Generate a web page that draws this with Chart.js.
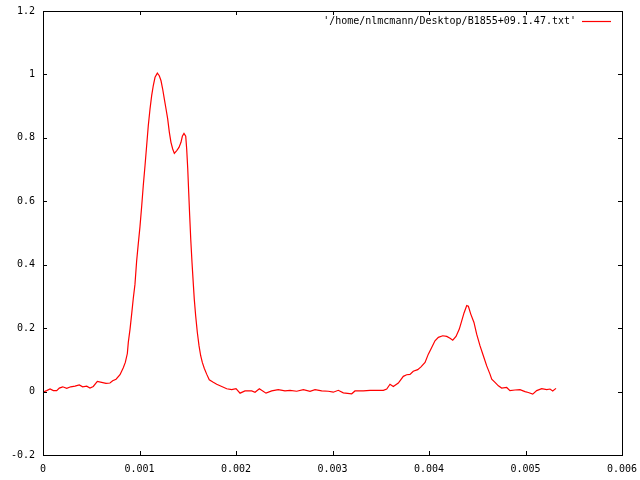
<!DOCTYPE html>
<html>
<head>
<meta charset="utf-8">
<script src="https://cdn.jsdelivr.net/npm/chart.js@4.4.1/dist/chart.umd.min.js"></script>
<style>
  html, body { margin: 0; padding: 0; background: #fff; }
</style>
</head>
<body>
<canvas id="profile" width="640" height="480"></canvas>
<script>
// pulse profile (x in seconds, y normalised)
var seriesLabel = "'/home/nlmcmann/Desktop/B1855+09.1.47.txt'";
var lineColor = '#ff0000';

var xs = [
  0.000000, 0.000038, 0.000073, 0.000107, 0.000142, 0.000169, 0.000204, 0.000246, 0.000287, 0.000332,
  0.000376, 0.000411, 0.000453, 0.000487, 0.000521, 0.000563, 0.000608, 0.000653, 0.000694, 0.000722,
  0.000757, 0.000798, 0.000832, 0.000853, 0.000874, 0.000884, 0.000902, 0.000919, 0.000936, 0.000953,
  0.000970, 0.000988, 0.001005, 0.001023, 0.001039, 0.001057, 0.001074, 0.001091, 0.001109, 0.001126,
  0.001143, 0.001161, 0.001185, 0.001205, 0.001223, 0.001240, 0.001257, 0.001275, 0.001292, 0.001309,
  0.001326, 0.001344, 0.001361, 0.001386, 0.001409, 0.001430, 0.001444, 0.001461, 0.001479, 0.001489,
  0.001500, 0.001510, 0.001520, 0.001531, 0.001544, 0.001558, 0.001568, 0.001582, 0.001599, 0.001617,
  0.001634, 0.001651, 0.001672, 0.001696, 0.001723, 0.001760, 0.001800, 0.001852, 0.001904, 0.001956,
  0.002000, 0.002042, 0.002093, 0.002163, 0.002197, 0.002242, 0.002311, 0.002370, 0.002438, 0.002508,
  0.002560, 0.002629, 0.002698, 0.002767, 0.002819, 0.002888, 0.002957, 0.003008, 0.003060, 0.003112,
  0.003199, 0.003233, 0.003319, 0.003389, 0.003458, 0.003527, 0.003562, 0.003596, 0.003630, 0.003682,
  0.003734, 0.003769, 0.003803, 0.003837, 0.003883, 0.003917, 0.003959, 0.003993, 0.004028, 0.004062,
  0.004097, 0.004142, 0.004184, 0.004218, 0.004246, 0.004280, 0.004314, 0.004339, 0.004363, 0.004391,
  0.004408, 0.004432, 0.004466, 0.004494, 0.004529, 0.004563, 0.004598, 0.004632, 0.004650, 0.004684,
  0.004719, 0.004753, 0.004805, 0.004839, 0.004891, 0.004943, 0.004995, 0.005029, 0.005075, 0.005116,
  0.005168, 0.005220, 0.005254, 0.005282, 0.005316
];

var ys = [
  -0.002, 0.003, 0.008, 0.003, 0.003, 0.011, 0.015, 0.010, 0.015, 0.017,
  0.021, 0.015, 0.017, 0.011, 0.016, 0.032, 0.029, 0.026, 0.027, 0.034,
  0.039, 0.053, 0.075, 0.092, 0.120, 0.155, 0.197, 0.245, 0.295, 0.338,
  0.410, 0.468, 0.520, 0.586, 0.649, 0.712, 0.775, 0.838, 0.891, 0.933,
  0.965, 0.991, 1.004, 0.996, 0.980, 0.954, 0.923, 0.891, 0.860, 0.818,
  0.786, 0.765, 0.751, 0.760, 0.770, 0.786, 0.805, 0.814, 0.805, 0.765,
  0.702, 0.628, 0.555, 0.480, 0.408, 0.338, 0.290, 0.239, 0.187, 0.144,
  0.113, 0.092, 0.073, 0.055, 0.037, 0.030, 0.023, 0.016, 0.009, 0.006,
  0.009, -0.005, 0.002, 0.002, -0.002, 0.009, -0.005, 0.002, 0.006, 0.002,
  0.004, 0.001, 0.006, 0.001, 0.006, 0.002, 0.001, -0.002, 0.004, -0.004,
  -0.007, 0.002, 0.002, 0.004, 0.004, 0.004, 0.008, 0.023, 0.016, 0.027,
  0.048, 0.053, 0.054, 0.064, 0.069, 0.078, 0.092, 0.118, 0.139, 0.160,
  0.171, 0.176, 0.174, 0.168, 0.162, 0.174, 0.197, 0.223, 0.248, 0.271,
  0.269, 0.245, 0.218, 0.181, 0.144, 0.113, 0.081, 0.055, 0.039, 0.029,
  0.018, 0.011, 0.013, 0.003, 0.005, 0.006, 0.000, -0.003, -0.008, 0.003,
  0.009, 0.006, 0.008, 0.002, 0.010
];

var xMin = 0, xMax = 0.006, xStep = 0.001;
var yMin = -0.2, yMax = 1.2, yStep = 0.2;

var points = xs.map(function (x, i) { return { x: x, y: ys[i] }; });

var tickFont = { family: '"DejaVu Sans Mono", monospace', size: 10 };
function fmt(v) { return String(+(+v).toFixed(6)); }

// gnuplot style: closed border, short ticks pointing inwards on all four sides, key inside
var gnuplotFrame = {
  id: 'gnuplotFrame',
  afterDraw: function (chart) {
    var ctx = chart.ctx, a = chart.chartArea;
    var sx = chart.scales.x, sy = chart.scales.y;
    ctx.save();
    ctx.strokeStyle = '#000';
    ctx.lineWidth = 1;
    ctx.strokeRect(a.left + 0.5, a.top + 0.5, a.right - a.left, a.bottom - a.top);
    ctx.beginPath();
    sx.ticks.forEach(function (t) {
      var px = Math.round(sx.getPixelForValue(t.value)) + 0.5;
      ctx.moveTo(px, a.bottom); ctx.lineTo(px, a.bottom - 4);
      ctx.moveTo(px, a.top); ctx.lineTo(px, a.top + 4);
    });
    sy.ticks.forEach(function (t) {
      var py = Math.round(sy.getPixelForValue(t.value)) + 0.5;
      ctx.moveTo(a.left, py); ctx.lineTo(a.left + 4, py);
      ctx.moveTo(a.right, py); ctx.lineTo(a.right - 4, py);
    });
    ctx.stroke();

    // key: label then a short sample of the line
    ctx.font = '10px "DejaVu Sans Mono", monospace';
    ctx.fillStyle = '#000';
    ctx.textAlign = 'right';
    ctx.textBaseline = 'middle';
    ctx.fillText(chart.data.datasets[0].label, a.right - 46, a.top + 10.5);
    ctx.beginPath();
    ctx.strokeStyle = lineColor;
    ctx.lineWidth = 1.2;
    ctx.moveTo(a.right - 40, a.top + 10.5);
    ctx.lineTo(a.right - 11, a.top + 10.5);
    ctx.stroke();
    ctx.restore();
  }
};

new Chart(document.getElementById('profile').getContext('2d'), {
  type: 'scatter',
  data: {
    datasets: [{
      label: seriesLabel,
      data: points,
      showLine: true,
      borderColor: lineColor,
      borderWidth: 1.2,
      pointRadius: 0,
      tension: 0
    }]
  },
  options: {
    responsive: false,
    animation: false,
    layout: { padding: { top: 11, right: 18, bottom: 0, left: 0 } },
    plugins: { legend: { display: false }, tooltip: { enabled: false } },
    scales: {
      x: {
        type: 'linear', min: xMin, max: xMax,
        grid: { display: false, drawTicks: false },
        border: { display: false },
        ticks: { stepSize: xStep, color: '#000', font: tickFont, padding: 8, maxRotation: 0, autoSkip: false, callback: fmt },
        afterFit: function (s) { s.height = 25; s.paddingLeft = 0; s.paddingRight = 0; }
      },
      y: {
        type: 'linear', min: yMin, max: yMax,
        grid: { display: false, drawTicks: false },
        border: { display: false },
        ticks: { stepSize: yStep, color: '#000', font: tickFont, padding: 8, autoSkip: false, callback: fmt },
        afterFit: function (s) { s.width = 43; s.paddingTop = 0; s.paddingBottom = 0; }
      }
    }
  },
  plugins: [gnuplotFrame]
});
</script>
</body>
</html>
